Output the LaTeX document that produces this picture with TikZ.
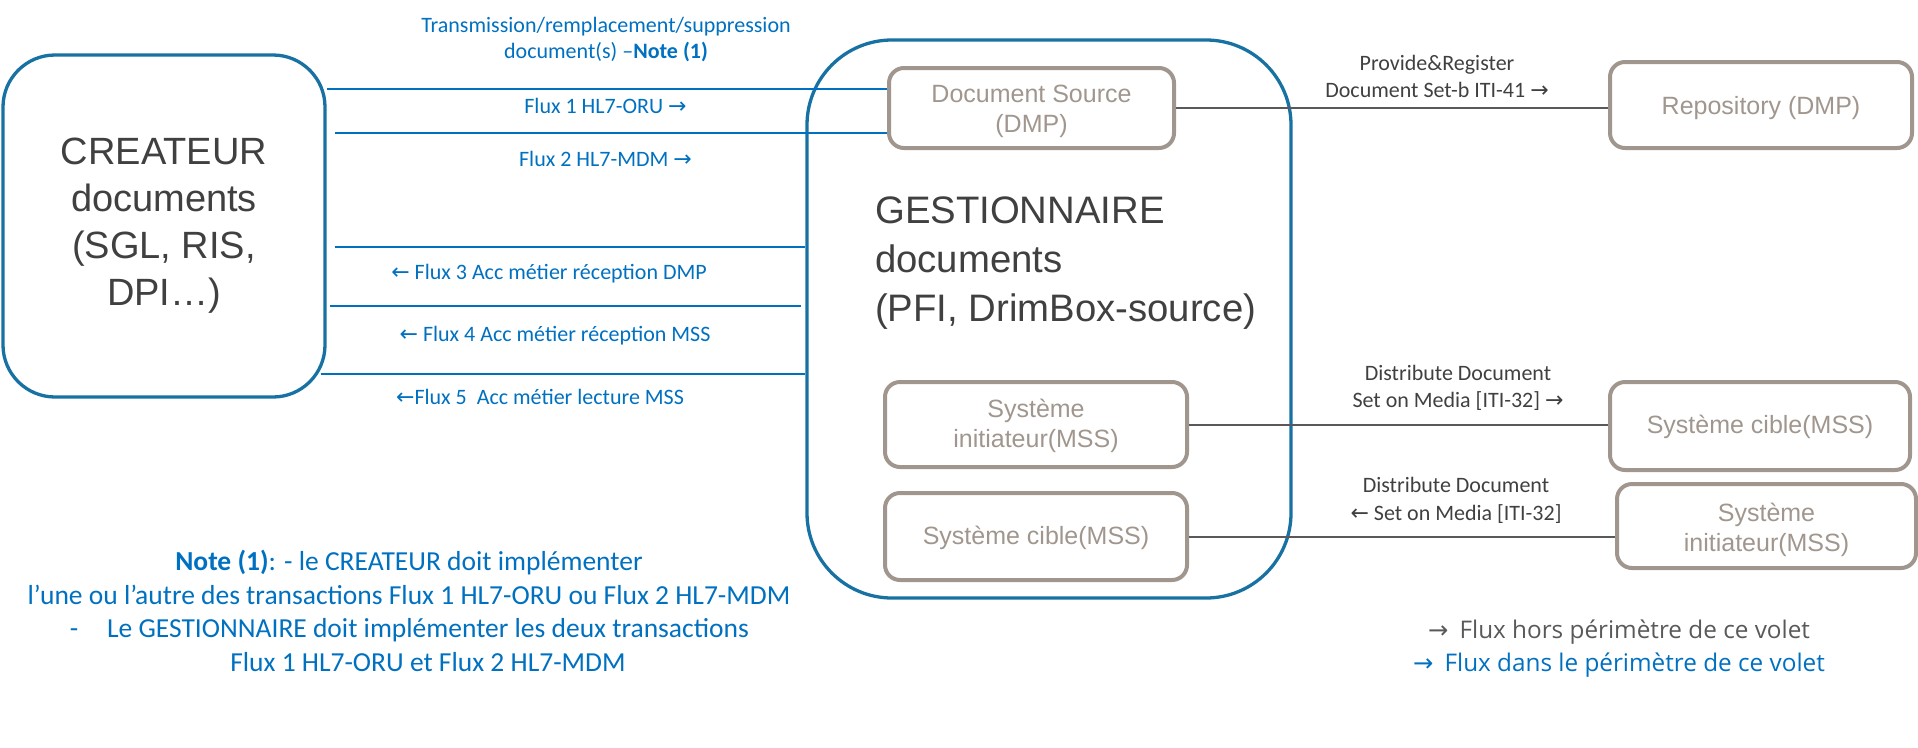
\documentclass[tikz,border=0pt]{standalone}
\usepackage{fontspec}
\setmainfont{Carlito}
\newfontfamily\arialf{Liberation Sans}
\newfontfamily\segoef{Open Sans}
\newfontfamily\arrowf{DejaVu Sans}
\newcommand{\myra}{{\arrowf\char"2192}}
\newcommand{\myla}{{\arrowf\char"2190}}
\newcommand{\lowr}[2]{\raisebox{-#1}[\height][\depth]{#2}}
\definecolor{boxblue}{RGB}{23,114,163}
\definecolor{txtblue}{RGB}{0,112,192}
\definecolor{boxgray}{RGB}{160,150,142}
\definecolor{boxtxt}{RGB}{160,150,142}
\definecolor{darktxt}{RGB}{64,64,64}
\definecolor{linegray}{RGB}{89,89,89}
\tikzset{
  creabox/.style={draw=boxblue, line width=3.3pt, rounded corners=52pt, inner sep=0pt,
    font=\arialf\fontsize{38}{47}\selectfont, text=darktxt, align=center},
  gestbox/.style={draw=boxblue, line width=3.3pt, rounded corners=85pt, inner sep=0pt},
  bigtext/.style={font=\arialf\fontsize{38.3}{49}\selectfont, text=darktxt, inner sep=0pt},
  graybox/.style={draw=boxgray, line width=4pt, rounded corners=15pt, inner sep=0pt,
    font=\arialf\fontsize{25}{30}\selectfont, text=boxtxt, align=center},
  bluelbl/.style={font=\fontsize{22}{26}\selectfont, text=txtblue, align=center, inner sep=0pt},
  graylbl/.style={font=\fontsize{22}{27.5}\selectfont, text=darktxt, align=center, inner sep=0pt},
  notelbl/.style={font=\fontsize{27.5}{33.3}\selectfont, text=txtblue, align=center, inner sep=0pt},
  leglbl/.style={font=\segoef\fontsize{24.3}{28}\selectfont, inner sep=0pt, anchor=west},
  bline/.style={draw=txtblue, line width=2pt},
  gline/.style={draw=linegray, line width=2pt},
}
\begin{document}
\begin{tikzpicture}[x=1pt,y=-1pt]
\useasboundingbox (0,0) rectangle (1918,747);

% main boxes
\node[creabox, minimum width=322pt, minimum height=342pt] (crea) at (164,226)
  {CREATEUR\\documents\\(SGL, RIS,\\DPI…)};
\node[gestbox, minimum width=484pt, minimum height=558pt] (gest) at (1049,319) {};
\node[bigtext, anchor=west, align=left] (gesttxt) at (875,263)
  {GESTIONNAIRE\\documents\\(PFI, DrimBox-source)};

% gray boxes
\node[graybox, minimum width=285pt, minimum height=80pt] (docsrc) at (1031.5,108)
  {\lowr{3.5pt}{Document Source}\\\lowr{3pt}{(DMP)}};
\node[graybox, minimum width=302pt, minimum height=86pt] (repo) at (1761,105)
  {\lowr{3.5pt}{Repository (DMP)}};
\node[graybox, minimum width=302pt, minimum height=85pt] (sysinitL) at (1036,424.5)
  {\lowr{1pt}{Système}\\\lowr{1pt}{initiateur(MSS)}};
\node[graybox, minimum width=302pt, minimum height=87pt] (syscibL) at (1036,536.5)
  {\lowr{1pt}{Système cible(MSS)}};
\node[graybox, minimum width=300pt, minimum height=88pt] (syscibR) at (1760,426)
  {\lowr{1pt}{Système cible(MSS)}};
\node[graybox, minimum width=299pt, minimum height=84pt] (sysinitR) at (1766.5,526)
  {\lowr{3.5pt}{Système}\\\lowr{4pt}{initiateur(MSS)}};

% blue flows
\coordinate (l1) at (0,88.5);
\coordinate (l2) at (0,132.5);
\coordinate (l3) at (0,247);
\coordinate (l4) at (0,306);
\coordinate (l5) at (0,373.5);
\draw[bline] (crea.east |- l1) -- (docsrc.west |- l1);
\draw[bline] ([xshift=8pt]crea.east |- l2) -- (docsrc.west |- l2);
\draw[bline] ([xshift=8pt]crea.east |- l3) -- (gest.west |- l3);
\draw[bline] ([xshift=3pt]crea.east |- l4) -- ([xshift=-4pt]gest.west |- l4);
\draw[bline] ([xshift=-6pt]crea.east |- l5) -- (gest.west |- l5);

% gray flows
\draw[gline] (docsrc.east) -- (repo.west |- docsrc.east);
\draw[gline] (sysinitL.east) -- (syscibR.west |- sysinitL.east);
\draw[gline] (syscibL.east) -- (sysinitR.west |- syscibL.east);

% blue labels
\node[bluelbl] (t0) at (606,40) {Transmission/remplacement/suppression\\document(s) –\textbf{Note (1)}};
\node[bluelbl] (f1) at (605.5,106) {Flux 1 HL7-ORU \myra};
\node[bluelbl] (f2) at (605.5,159) {Flux 2 HL7-MDM \myra};
\node[bluelbl] (f3) at (549,274) {\myla{} Flux 3 Acc métier réception DMP};
\node[bluelbl] (f4) at (555,336) {\myla{} Flux 4 Acc métier réception MSS};
\node[bluelbl] (f5) at (540,397) {\myla Flux 5\ \ Acc métier lecture MSS};

% gray labels
\node[graylbl] (p1) at (1437,76.5) {Provide\&Register\\Document Set-b ITI-41 \myra};
\node[graylbl] (d1) at (1458,388) {Distribute Document\\Set on Media [ITI-32] \myra};
\node[graylbl] (d2) at (1456,500.5) {Distribute Document\\\myla{} Set on Media [ITI-32]};

% note
\node[notelbl] (note1) at (409,577.5) {\textbf{Note (1)}: - le CREATEUR doit implémenter\\l’une ou l’autre des transactions Flux 1 HL7-ORU ou Flux 2 HL7-MDM};
\node[notelbl] (note2) at (428,645) {\llap{-\hspace{29pt}}Le GESTIONNAIRE doit implémenter les deux transactions\\Flux 1 HL7-ORU et Flux 2 HL7-MDM};

% legend
\node[leglbl, text=linegray] (leg1) at (1428,632) {\myra\hspace{11pt}Flux hors périmètre de ce volet};
\node[leglbl, text=txtblue] (leg2) at (1413,665) {\myra\hspace{11pt}Flux dans le périmètre de ce volet};
\end{tikzpicture}
\end{document}
